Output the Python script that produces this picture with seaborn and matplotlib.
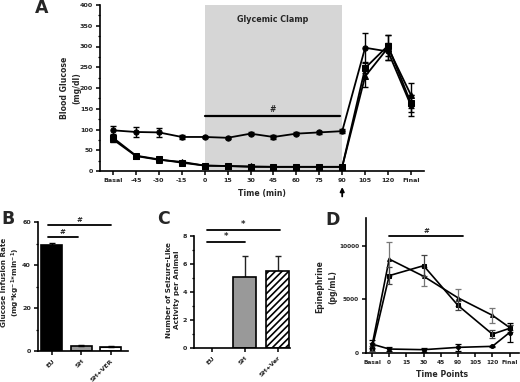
import numpy as np
import pandas as pd
import matplotlib
matplotlib.use("Agg")
import matplotlib.pyplot as plt
import seaborn as sns
from matplotlib.ticker import MultipleLocator

sns.set_theme(style="ticks")
plt.rcParams['font.family'] = ['DejaVu Sans']
plt.rcParams['font.weight'] = 'bold'
plt.rcParams['axes.labelweight'] = 'bold'
plt.rcParams['hatch.color'] = '#9a9a9a'
plt.rcParams['hatch.linewidth'] = 1.2

# ---------------- data ----------------
a_labels = ['Basal', '-45', '-30', '-15', '0', '15', '30', '45', '60', '75', '90', '105', '120', 'Final']
a_eu = [98, 94, 93, 82, 82, 80, 90, 82, 90, 93, 96, 297, 288, 158]
a_eu_err = [10, 12, 10, 4, 3, 3, 3, 4, 3, 4, 5, 35, 20, 25]
a_sh = [80, 37, 28, 20, 13, 12, 10, 10, 10, 10, 10, 248, 302, 163]
a_sh_err = [6, 3, 3, 3, 2, 2, 2, 2, 2, 2, 2, 12, 25, 20]
a_ver = [76, 36, 27, 22, 13, 12, 11, 10, 10, 10, 10, 228, 297, 183]
a_ver_err = [5, 3, 3, 3, 2, 2, 2, 2, 2, 2, 2, 25, 30, 30]

b_groups = ['EU', 'SH', 'SH+VER']
b_vals = [49.5, 2.5, 2.0]
b_err = [0.6, 0.2, 0.3]

c_groups = ['EU', 'SH', 'SH+Ver']
c_vals = [0.0, 5.05, 5.5]
c_err = [0.0, 1.55, 1.05]

d_labels = ['Basal', '0', '15', '30', '45', '90', '105', '120', 'Final']
d_points = ['Basal', '0', '30', '90', '120', 'Final']
d_s1 = [680, 8765, 7160, 5150, 3520, 2380]
d_s1_err = [300, 1570, 860, 800, 700, 250]
d_s2 = [420, 7220, 8150, 4440, 1760, 2300]
d_s2_err = [250, 800, 1000, 450, 400, 300]
d_s3 = [830, 370, 310, 525, 620, 1910]
d_s3_err = [400, 150, 200, 350, 80, 900]

W, H = 520, 382
fig = plt.figure(figsize=(W / 100, H / 100), dpi=100)

def ax_at(l, r, t, b):
    return fig.add_axes([l / W, 1 - b / H, (r - l) / W, (b - t) / H])

tick_fs = 4.6
lab_fs = 5.6

def style(ax):
    sns.despine(ax=ax)
    for s in ['left', 'bottom']:
        ax.spines[s].set_linewidth(1.2)
        ax.spines[s].set_color('black')
    ax.tick_params(axis='both', which='major', length=3, width=1.1, labelsize=tick_fs, pad=2, color='black')
    ax.tick_params(axis='both', which='minor', length=1.8, width=0.9, color='black')
    for lab in ax.get_xticklabels() + ax.get_yticklabels():
        lab.set_fontweight('bold')

# ---------------- Panel A ----------------
axA = ax_at(100, 424, 5, 171)
xa = np.arange(len(a_labels))
axA.axvspan(4, 10, color='#d6d6d6', zorder=0, lw=0)
for vals, err, mk, ms in [(a_eu, a_eu_err, 'o', 3.8), (a_ver, a_ver_err, '^', 4.0), (a_sh, a_sh_err, 's', 3.8)]:
    df = pd.DataFrame({'x': xa, 'y': vals})
    sns.lineplot(data=df, x='x', y='y', ax=axA, color='black', lw=1.3, marker=mk,
                 markersize=ms, markeredgecolor='black', zorder=3)
    axA.errorbar(xa, vals, yerr=err, fmt='none', ecolor='black', elinewidth=1, capsize=2, capthick=1, zorder=3)
axA.set_xlim(-0.57, 13.57)
axA.set_ylim(0, 400)
axA.set_xticks(xa)
axA.set_xticklabels(a_labels)
axA.yaxis.set_major_locator(MultipleLocator(50))
axA.yaxis.set_minor_locator(MultipleLocator(25))
axA.plot([4, 9.9], [132, 132], color='black', lw=1.6)
axA.text(6.95, 137, '#', ha='center', va='bottom', fontsize=5.5, fontweight='bold')
axA.text(6.95, 365, 'Glycemic Clamp', ha='center', va='center', fontsize=5.8, fontweight='bold')
axA.set_xlabel('Time (min)', fontsize=lab_fs, fontweight='bold')
axA.set_ylabel('Blood Glucose\n(mg/dl)', fontsize=lab_fs, fontweight='bold', linespacing=1.5)
axA.xaxis.set_label_coords(0.5, -0.11)
axA.yaxis.set_label_coords(-0.058, 0.5)
axA.annotate('', xy=(10, -0.08), xytext=(10, -0.17), xycoords=('data', 'axes fraction'),
             textcoords=('data', 'axes fraction'),
             arrowprops=dict(arrowstyle='-|>', color='black', lw=1.3, mutation_scale=6), annotation_clip=False)
style(axA)

# ---------------- Panel B ----------------
axB = ax_at(38, 128, 222, 351)
dfB = pd.DataFrame({'g': b_groups, 'v': b_vals})
sns.barplot(data=dfB, x='g', y='v', ax=axB, width=0.71, errorbar=None,
            palette=['black', '#999999', 'white'], hue='g', legend=False,
            edgecolor='black', linewidth=1.2, zorder=2)
axB.patches[2].set_hatch('- - -')
axB.errorbar(range(3), b_vals, yerr=b_err, fmt='none', ecolor='black', elinewidth=1, capsize=2.5, capthick=1, zorder=3)
axB.set_xlim(-0.47, 2.58)
axB.set_ylim(0, 60)
axB.yaxis.set_major_locator(MultipleLocator(20))
axB.yaxis.set_minor_locator(MultipleLocator(10))
axB.set_xlabel('')
axB.set_xticks(range(3))
axB.set_xticklabels(b_groups, rotation=45, ha='right', rotation_mode='anchor')
axB.plot([-0.14, 2.0], [58.6, 58.6], color='black', lw=1.3, clip_on=False)
axB.text(0.93, 59.6, '#', ha='center', va='bottom', fontsize=5, fontweight='bold')
axB.plot([-0.14, 0.88], [53, 53], color='black', lw=1.3, clip_on=False)
axB.text(0.37, 54, '#', ha='center', va='bottom', fontsize=5, fontweight='bold')
axB.set_ylabel('Glucose Infusion Rate\n(mg*kg$^{\\mathbf{-1}}$*min$^{\\mathbf{-1}}$)', fontsize=5.2, fontweight='bold', linespacing=1.3)
axB.yaxis.set_label_coords(-0.175, 0.53)
style(axB)

# ---------------- Panel C ----------------
axC = ax_at(194, 290, 236, 348)
dfC = pd.DataFrame({'g': c_groups, 'v': c_vals})
sns.barplot(data=dfC, x='g', y='v', ax=axC, width=0.7, errorbar=None,
            palette=['white', '#999999', 'white'], hue='g', legend=False,
            edgecolor='black', linewidth=1.2, zorder=2)
axC.patches[2].set_hatch('/////')
axC.patches[0].set_linewidth(0)
lo = [0, 0, 0]
axC.errorbar([1, 2], c_vals[1:], yerr=[lo[1:], c_err[1:]], fmt='none', ecolor='#222222',
             elinewidth=1, capsize=2.5, capthick=1, zorder=1)
axC.set_xlim(-0.55, 2.38)
axC.set_ylim(0, 8)
axC.yaxis.set_major_locator(MultipleLocator(2))
axC.yaxis.set_minor_locator(MultipleLocator(1))
axC.set_xlabel('')
axC.set_xticks(range(3))
axC.set_xticklabels(c_groups, rotation=45, ha='right', rotation_mode='anchor')
axC.plot([-0.15, 2.06], [8.43, 8.43], color='black', lw=1.3, clip_on=False)
axC.text(0.95, 8.5, '*', ha='center', va='bottom', fontsize=6, fontweight='bold')
axC.plot([-0.15, 1.0], [7.57, 7.57], color='black', lw=1.3, clip_on=False)
axC.text(0.42, 7.64, '*', ha='center', va='bottom', fontsize=6, fontweight='bold')
axC.set_ylabel('Number of Seizure-Like\nActivity per Animal', fontsize=5.2, fontweight='bold', linespacing=1.4)
axC.yaxis.set_label_coords(-0.15, 0.52)
style(axC)

# ---------------- Panel D ----------------
axD = ax_at(366, 519, 218, 353)
xd = [d_labels.index(p) for p in d_points]
for vals, err, mk, ec in [(d_s1, d_s1_err, '^', '#777777'), (d_s2, d_s2_err, 's', '#444444'), (d_s3, d_s3_err, 'o', 'black')]:
    df = pd.DataFrame({'x': xd, 'y': vals})
    sns.lineplot(data=df, x='x', y='y', ax=axD, color='black', lw=1.2, marker=mk,
                 markersize=2.8, markeredgecolor='black', zorder=3)
    axD.errorbar(xd, vals, yerr=err, fmt='none', ecolor=ec, elinewidth=0.9, capsize=2, capthick=0.9, zorder=3)
axD.set_xlim(-0.35, 8.55)
axD.set_ylim(0, 12600)
axD.set_xticks(range(len(d_labels)))
axD.set_xticklabels(d_labels)
axD.set_yticks([0, 5000, 10000])
axD.plot([1, 5.3], [10935, 10935], color='black', lw=1.3)
axD.text(3.15, 11150, '#', ha='center', va='bottom', fontsize=5, fontweight='bold')
axD.set_xlabel('Time Points', fontsize=lab_fs, fontweight='bold')
axD.set_ylabel('Epinephrine\n(pg/mL)', fontsize=lab_fs, fontweight='bold', linespacing=1.5)
axD.xaxis.set_label_coords(0.5, -0.125)
axD.yaxis.set_label_coords(-0.19, 0.49)
style(axD)
axD.tick_params(axis='both', labelsize=4.2)

# panel letters
for letter, x, y in [('A', 35, 8), ('B', 1, 219), ('C', 157, 219), ('D', 325, 220)]:
    fig.text(x / W, 1 - y / H, letter, fontsize=12.5, fontweight='bold', ha='left', va='center')

fig.savefig('out.png', dpi=100)
